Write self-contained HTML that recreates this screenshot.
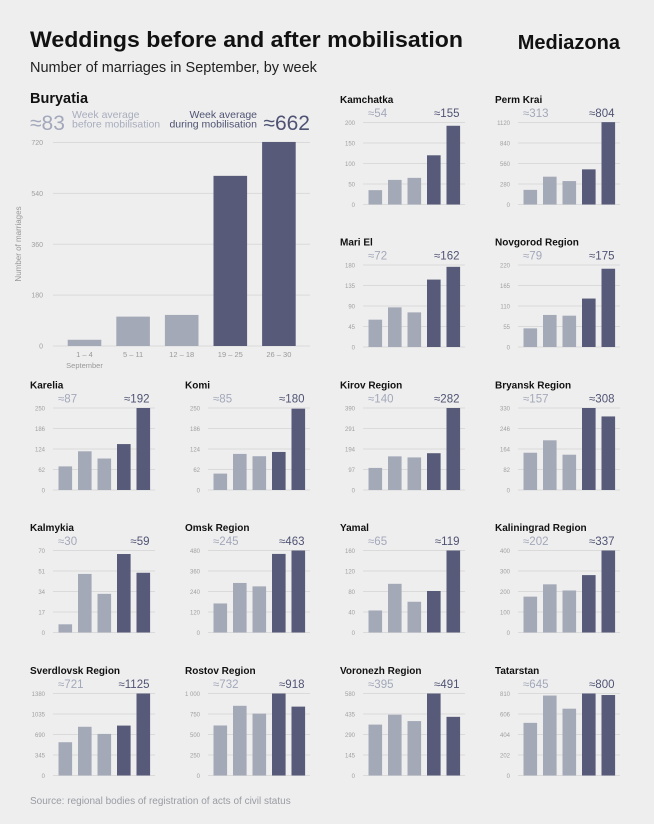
<!DOCTYPE html>
<html><head><meta charset="utf-8">
<style>
body{margin:0;background:#eeeeee;}
#wrap{position:relative;width:654px;height:824px;background:#eeeeee;font-family:"Liberation Sans",sans-serif;overflow:hidden}
svg text{font-family:"Liberation Sans",sans-serif}
</style></head>
<body>
<div id="wrap">
<svg id="svg" width="654" height="824">
<text x="30" y="47" font-size="22" font-weight="bold" fill="#111" textLength="433" lengthAdjust="spacingAndGlyphs">Weddings before and after mobilisation</text>
<text x="620" y="49" font-size="20" font-weight="bold" fill="#111" text-anchor="end">Mediazona</text>
<text x="30" y="72" font-size="14.5" fill="#222">Number of marriages in September, by week</text>
<text x="30" y="804" font-size="10" fill="#9a9ca4">Source: regional bodies of registration of acts of civil status</text>
</svg>
</div>
<script>
const weeks=["1 – 4","5 – 11","12 – 18","19 – 25","26 – 30"];
const buryatiaValues=[22,104,110,602,722];
const buryatiaTicks=[0,180,360,540,720];
const buryatiaAvg=["≈83","≈662"];
const regionNames=["Kamchatka","Perm Krai","Mari El","Novgorod Region","Karelia","Komi","Kirov Region","Bryansk Region","Kalmykia","Omsk Region","Yamal","Kaliningrad Region","Sverdlovsk Region","Rostov Region","Voronezh Region","Tatarstan"];
const regionValues=[
[35,60,65,120,192],[200,380,320,480,1125],
[60,87,76,148,176],[50,86,84,130,210],
[72,118,96,140,250],[50,110,103,116,248],[105,160,155,175,390],[150,200,142,330,296],
[7,50,33,67,51],[170,290,270,460,480],[43,95,60,81,160],[175,235,205,280,400],
[560,820,700,840,1380],[610,850,755,1000,840],[360,430,385,580,415],[520,790,660,810,795]];
const regionTicks=[
["0","50","100","150","200"],["0","280","560","840","1120"],
["0","45","90","135","180"],["0","55","110","165","220"],
["0","62","124","186","250"],["0","62","124","186","250"],["0","97","194","291","390"],["0","82","164","246","330"],
["0","17","34","51","70"],["0","120","240","360","480"],["0","40","80","120","160"],["0","100","200","300","400"],
["0","345","690","1035","1380"],["0","250","500","750","1 000"],["0","145","290","435","580"],["0","202","404","606","810"]];
const regionAvgBefore=["≈54","≈313","≈72","≈79","≈87","≈85","≈140","≈157","≈30","≈245","≈65","≈202","≈721","≈732","≈395","≈645"];
const regionAvgDuring=["≈155","≈804","≈162","≈175","≈192","≈180","≈282","≈308","≈59","≈463","≈119","≈337","≈1125","≈918","≈491","≈800"];

const NS="http://www.w3.org/2000/svg";
const svg=document.getElementById('svg');
const LIGHT="#a4a9b8",DARK="#575b79",GRID="#dadada",TICK="#a0a0a0";
function mk(tag,attrs,parent){const e=document.createElementNS(NS,tag);for(const k in attrs)e.setAttribute(k,attrs[k]);(parent||svg).appendChild(e);return e;}
function txt(x,y,s,size,fill,anchor,weight,parent){const t=mk('text',{x:x,y:y,'font-size':size,fill:fill,'text-anchor':anchor||'start'},parent);if(weight)t.setAttribute('font-weight',weight);t.textContent=s;return t;}

(function(){
  const g=mk('g',{});
  
  
  const x0=53,x1=310,yTop=142.5,yBot=346;
  const max=buryatiaTicks[buryatiaTicks.length-1];
  const y=v=>yBot-(v/max)*(yBot-yTop);
  const t=txt(30,103,"Buryatia",14.5,"#111","start","bold",g);
  
  const a=txt(30,130,buryatiaAvg[0],21,"#a3a8ba","start",null,g);
  
  const l1=txt(72,118,"Week average",10.5,"#a8adbd","start",null,g);
  
  txt(72,127.5,"before mobilisation",10.5,"#a8adbd","start",null,g);
  const l2=txt(257,118,"Week average",10.5,"#4f5373","end",null,g);
  
  txt(257,127.5,"during mobilisation",10.5,"#4f5373","end",null,g);
  const b=txt(310,130,buryatiaAvg[1],21,"#4f5373","end",null,g);
  
  buryatiaTicks.forEach(v=>{
    const ln=mk('line',{x1:x0,x2:x1,y1:y(v),y2:y(v),stroke:GRID,'stroke-width':1},g);
    
    const tl=txt(43,y(v)+2.5,String(v),7,TICK,"end",null,g);
    
  });
  const yt=txt(0,0,"Number of marriages",8,"#999","middle",null,g);
  yt.setAttribute('transform','translate(21,244) rotate(-90)');
  
  const step=48.6,bw=33.6,bx0=67.7;
  buryatiaValues.forEach((v,i)=>{
    const r=mk('rect',{x:bx0+i*step,y:y(v),width:bw,height:yBot-y(v),fill:i<3?LIGHT:DARK},g);
    
    const xl=txt(bx0+i*step+bw/2,357,weeks[i],7.5,"#999","middle",null,g);
    
  });
  const sp=txt(bx0+bw/2,368,"September",7.5,"#999","middle",null,g);
  
})();

const colX=[30,185,340,495];
const cells=[[0,2],[0,3],[1,2],[1,3]];
for(let r=2;r<5;r++)for(let c=0;c<4;c++)cells.push([r,c]);
const rowTitleY=[103,245.5,388.5,531,674];
regionNames.forEach((name,i)=>{
  const [row,col]=cells[i];
  const tx=colX[col],ty=rowTitleY[row];
  const g=mk('g',{});
  
  
  const yTop=ty+19.5,yBot=ty+101.5,gx0=tx+23,gx1=tx+125;
  const ticks=regionTicks[i];
  const max=parseFloat(ticks[4].replace(/\s/g,''));
  const y=v=>yBot-(v/max)*(yBot-yTop);
  const t=txt(tx,ty,name,10,"#111","start","bold",g);
  
  const a=txt(tx+28,ty+14,regionAvgBefore[i],11.5,"#a3a8ba","start",null,g);
  
  const b=txt(tx+119.5,ty+14,regionAvgDuring[i],11.5,"#4f5373","end",null,g);
  
  ticks.forEach((s,k)=>{
    const yy=yBot-(k/4)*(yBot-yTop);
    const ln=mk('line',{x1:gx0,x2:gx1,y1:yy,y2:yy,stroke:GRID,'stroke-width':1},g);
    
    const tl=txt(tx+15,yy+2.3,s,6,TICK,"end",null,g);
    
  });
  const step=19.5,bw=13.6,bx0=tx+28.5;
  regionValues[i].forEach((v,k)=>{
    const rc=mk('rect',{x:bx0+k*step,y:y(v),width:bw,height:yBot-y(v),fill:k<3?LIGHT:DARK},g);
    
  });
});
</script>
</body></html>
